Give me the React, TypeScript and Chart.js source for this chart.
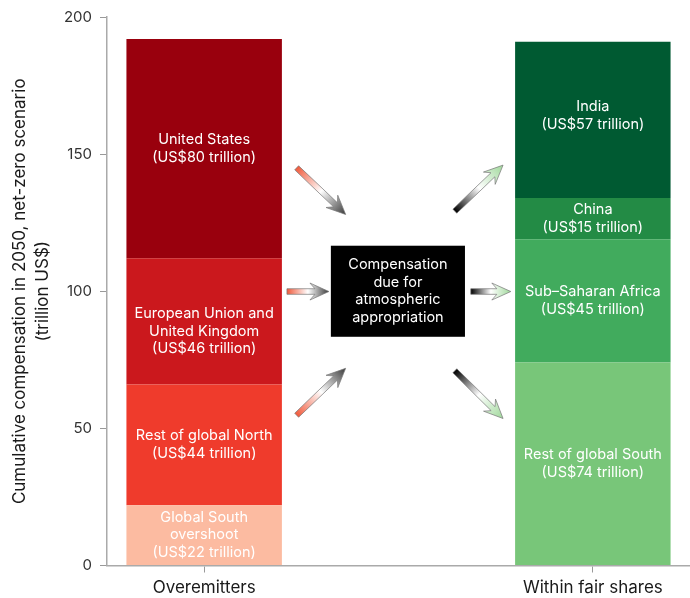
import React, { useEffect, useRef } from "react";
import { Chart, registerables } from "chart.js";

Chart.register(...registerables);

// ---- Data ----
const categories = ["Overemitters", "", "Within fair shares"];
const yTicks = [0, 50, 100, 150, 200];

// stacked tiers, bottom to top: [Overemitters, (gap), Within fair shares]
const tier1Values = [22, null, 74];
const tier2Values = [44, null, 45];
const tier3Values = [46, null, 15];
const tier4Values = [80, null, 57];

const tier1Labels = ["Global South\novershoot\n(US$22 trillion)", "", "Rest of global South\n(US$74 trillion)"];
const tier2Labels = ["Rest of global North\n(US$44 trillion)", "", "Sub–Saharan Africa\n(US$45 trillion)"];
const tier3Labels = ["European Union and\nUnited Kingdom\n(US$46 trillion)", "", "China\n(US$15 trillion)"];
const tier4Labels = ["United States\n(US$80 trillion)", "", "India\n(US$57 trillion)"];

const tier1Colors = ["#fcbba1", "#000000", "#78c679"];
const tier2Colors = ["#ef3b2c", "#000000", "#41ab5d"];
const tier3Colors = ["#cb181d", "#000000", "#238b45"];
const tier4Colors = ["#99000d", "#000000", "#005a32"];

// small label nudges (pixels), per tier per category
const labelNudge = [
  [0, 0, 0],
  [0, 0, 0],
  [10, 0, 0],
  [0, 0, -4],
];

const boxText = ["Compensation", "due for", "atmospheric", "appropriation"];

// arrows: [fromFrac, fromValue, toFrac, toValue, side]; frac 0 = left bar centre, 1 = right bar centre
const arrows: [number, number, number, number, "in" | "out"][] = [
  [0.238, 145.0, 0.364, 128.0, "in"],
  [0.213, 99.9, 0.321, 99.9, "in"],
  [0.238, 54.8, 0.364, 71.9, "in"],
  [0.645, 129.2, 0.769, 146.0, "out"],
  [0.686, 99.9, 0.789, 99.9, "out"],
  [0.645, 71.0, 0.769, 53.6, "out"],
];
const boxExtent = { f0: 0.326, f1: 0.671, v0: 83.4, v1: 116.6 };

const FONT = "Inter, 'Noto Sans', sans-serif";

function drawArrow(ctx: CanvasRenderingContext2D, x1: number, y1: number, x2: number, y2: number, c0: string, c1: string) {
  const dx = x2 - x1, dy = y2 - y1;
  const len = Math.hypot(dx, dy);
  const ux = dx / len, uy = dy / len;
  const nx = -uy, ny = ux;
  const sw = 2.8, hw = 8.5, hl = 19, notch = 14;
  const local: [number, number][] = [
    [0, -sw], [len - notch, -sw], [len - hl, -hw], [len, 0], [len - hl, hw], [len - notch, sw], [0, sw],
  ];
  ctx.save();
  ctx.beginPath();
  local.forEach(([a, p], i) => {
    const px = x1 + ux * a + nx * p;
    const py = y1 + uy * a + ny * p;
    if (i === 0) ctx.moveTo(px, py);
    else ctx.lineTo(px, py);
  });
  ctx.closePath();
  const g = ctx.createLinearGradient(x1, y1, x2, y2);
  g.addColorStop(0, c0);
  g.addColorStop(0.5, "#ffffff");
  g.addColorStop(1, c1);
  ctx.fillStyle = g;
  ctx.fill();
  ctx.lineWidth = 0.8;
  ctx.strokeStyle = "rgba(120,120,120,0.9)";
  ctx.stroke();
  ctx.restore();
}

const annotationPlugin = {
  id: "annotations",
  afterDatasetsDraw(chart: any) {
    const ctx: CanvasRenderingContext2D = chart.ctx;
    const xs = chart.scales.x;
    const ys = chart.scales.y;
    const xa = xs.getPixelForValue(0);
    const xb = xs.getPixelForValue(2);
    const X = (f: number) => xa + f * (xb - xa);
    const Y = (v: number) => ys.getPixelForValue(v);

    // bar labels
    const labelSets = [tier1Labels, tier2Labels, tier3Labels, tier4Labels];
    chart.data.datasets.forEach((ds: any, di: number) => {
      const meta = chart.getDatasetMeta(di);
      meta.data.forEach((el: any, i: number) => {
        if (ds.data[i] == null) return;
        const lines = labelSets[di][i].split("\n");
        const cx = el.x;
        const cy = (el.y + el.base) / 2 + labelNudge[di][i];
        const lh = 17.5;
        ctx.save();
        ctx.fillStyle = "#ffffff";
        ctx.font = `14.5px ${FONT}`;
        ctx.textAlign = "center";
        ctx.textBaseline = "middle";
        lines.forEach((t: string, k: number) => {
          ctx.fillText(t, cx, cy + (k - (lines.length - 1) / 2) * lh);
        });
        ctx.restore();
      });
    });

    // central box
    const bx0 = X(boxExtent.f0), bx1 = X(boxExtent.f1);
    const by0 = Y(boxExtent.v1), by1 = Y(boxExtent.v0);
    ctx.save();
    ctx.fillStyle = "#000000";
    ctx.fillRect(bx0, by0, bx1 - bx0, by1 - by0);
    ctx.fillStyle = "#ffffff";
    ctx.font = `14.5px ${FONT}`;
    ctx.textAlign = "center";
    ctx.textBaseline = "middle";
    const cx = (bx0 + bx1) / 2, cy = (by0 + by1) / 2;
    boxText.forEach((t, k) => {
      ctx.fillText(t, cx, cy + (k - (boxText.length - 1) / 2) * 17.5);
    });
    ctx.restore();

    // arrows
    arrows.forEach(([f0, v0, f1, v1, side]) => {
      if (side === "in") drawArrow(ctx, X(f0), Y(v0), X(f1), Y(v1), "#f05a3c", "#3a3a3a");
      else drawArrow(ctx, X(f0), Y(v0), X(f1), Y(v1), "#000000", "#9fd89a");
    });
  },
};

export default function App() {
  const ref = useRef<HTMLCanvasElement | null>(null);
  useEffect(() => {
    if (!ref.current) return;
    const mk = (data: (number | null)[], colors: string[], label: string) => ({
      label,
      data,
      backgroundColor: colors,
      borderWidth: 0,
      categoryPercentage: 1,
      barPercentage: 0.8,
    });
    const chart = new Chart(ref.current, {
      type: "bar",
      data: {
        labels: categories,
        datasets: [
          mk(tier1Values, tier1Colors, "Tier 1"),
          mk(tier2Values, tier2Colors, "Tier 2"),
          mk(tier3Values, tier3Colors, "Tier 3"),
          mk(tier4Values, tier4Colors, "Tier 4"),
        ],
      },
      options: {
        responsive: false,
        animation: false,
        layout: { padding: { top: 17, right: 0, left: 0, bottom: 0 } },
        plugins: { legend: { display: false }, tooltip: { enabled: false } },
        scales: {
          x: {
            stacked: true,
            offset: true,
            afterFit: (s: any) => { s.height = 32.5; },
            grid: {
              offset: false,
              drawOnChartArea: false,
              drawTicks: true,
              tickLength: 7,
              tickColor: (c: any) => (c.index === 1 ? "rgba(0,0,0,0)" : "#999999"),
            },
            border: { color: "#aaaaaa", width: 1.5 },
            ticks: { color: "#1a1a1a", font: { family: FONT, size: 17 }, padding: 5, maxRotation: 0, autoSkip: false },
          },
          y: {
            stacked: true,
            min: 0,
            max: 200,
            afterFit: (s: any) => { s.width = 107; },
            afterBuildTicks: (s: any) => { s.ticks = yTicks.map((v) => ({ value: v })); },
            grid: { drawOnChartArea: false, drawTicks: true, tickLength: 7, tickColor: "#999999" },
            border: { color: "#aaaaaa", width: 1.5 },
            ticks: { color: "#333333", font: { family: FONT, size: 15 }, padding: 8 },
            title: {
              display: true,
              text: ["Cumulative compensation in 2050, net-zero scenario", "(trillion US$)"],
              color: "#1a1a1a",
              font: { family: FONT, size: 17, lineHeight: 1.36 },
              padding: { top: 8, bottom: 0 },
            },
          },
        },
      },
      plugins: [annotationPlugin],
    });
    return () => chart.destroy();
  }, []);
  return (
    <div style={{ position: "absolute", left: 0, top: 0, width: 690, height: 598, background: "#ffffff" }}>
      <canvas ref={ref} width={690} height={598} />
    </div>
  );
}
